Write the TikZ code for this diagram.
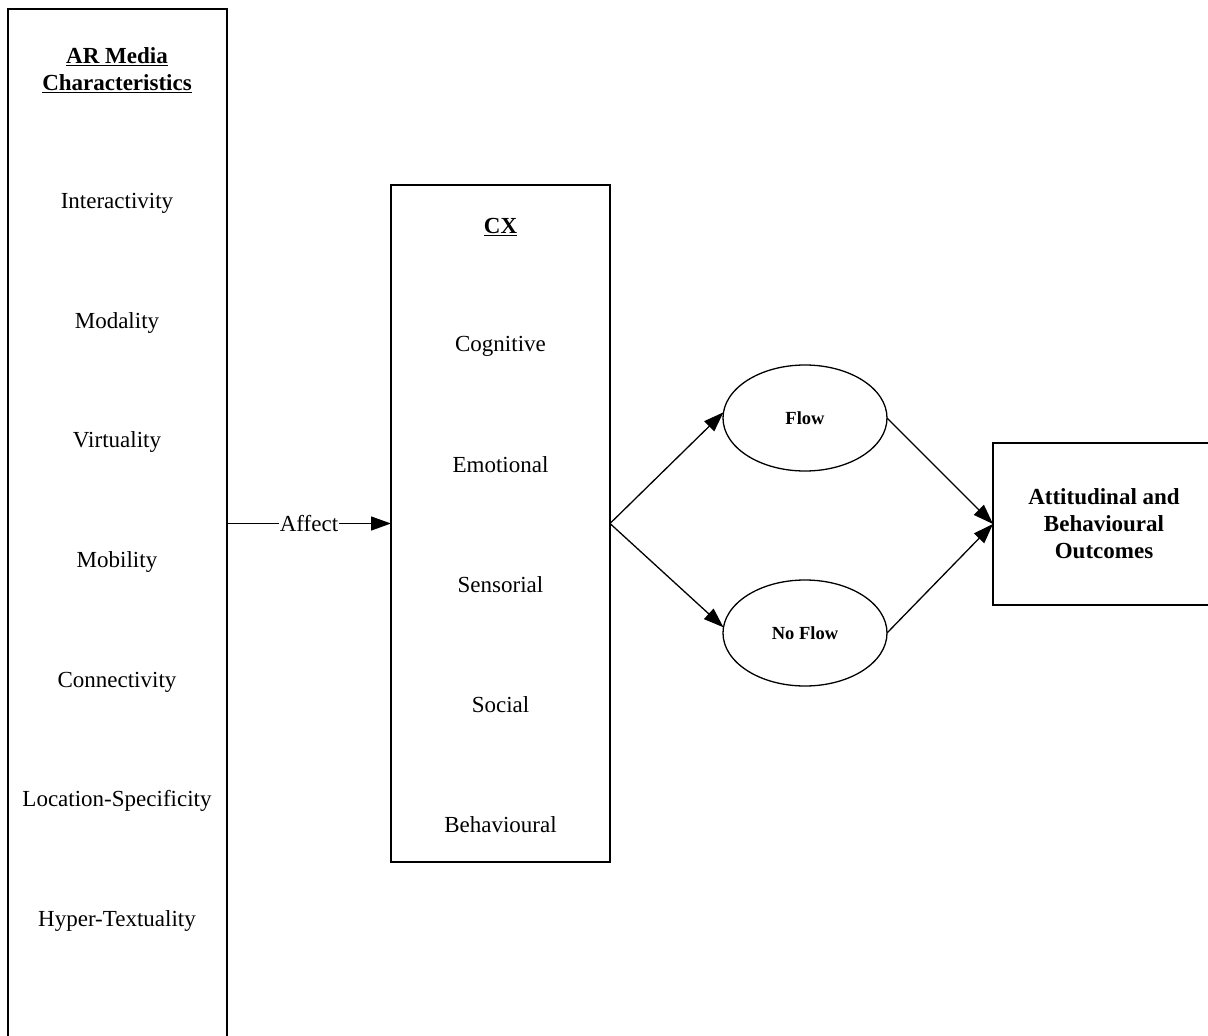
\documentclass[tikz,border=0pt]{standalone}
\usepackage{fontspec}
\setmainfont{Liberation Serif}
\usetikzlibrary{shapes.geometric,arrows.meta}
\begin{document}
\begin{tikzpicture}[x=1pt,y=-1pt,
  box/.style={draw, line width=1.4pt, inner sep=0pt, outer sep=0pt},
  txt/.style={font=\fontsize{23}{27}\selectfont, inner sep=1pt},
  ttl/.style={font=\fontsize{23}{27}\selectfont\bfseries, align=center, inner sep=1pt},
  oval/.style={draw, line width=1.3pt, ellipse, minimum width=164pt, minimum height=106pt, inner sep=0pt, outer sep=0pt, font=\fontsize{18.5}{22}\selectfont\bfseries},
  arr/.style={line width=1.3pt, -{Triangle[length=20pt,width=14pt]}}]
\useasboundingbox (0,0) rectangle (1208,1036);
\clip (0,0) rectangle (1208,1036);
% left box
\node[box, minimum width=219pt, minimum height=1100pt, anchor=north west] (arm) at (8,9) {};
\node[ttl] (armT) at (117,70) {\underline{AR Media}\\\underline{Characteristics}};
\node[txt] (a1) at (117,203) {Interactivity};
\node[txt] (a2) at (117,323) {Modality};
\node[txt] (a3) at (117,442) {Virtuality};
\node[txt] (a4) at (117,562) {Mobility};
\node[txt] (a5) at (117,682) {Connectivity};
\node[txt] (a6) at (117,801) {Location-Specificity};
\node[txt] (a7) at (117,921) {Hyper-Textuality};
% CX box
\node[box, minimum width=219pt, minimum height=677pt, anchor=north west] (cx) at (391,185) {};
\node[ttl] (cxT) at (500.5,227) {\underline{CX}};
\node[txt] (c1) at (500.5,346) {Cognitive};
\node[txt] (c2) at (500.5,465) {Emotional};
\node[txt] (c3) at (500.5,585) {Sensorial};
\node[txt] (c4) at (500.5,705) {Social};
\node[txt] (c5) at (500.5,825) {Behavioural};
% ellipses
\node[oval] (flow) at (805,418) {Flow};
\node[oval] (noflow) at (805,633) {No Flow};
% outcomes
\node[box, minimum width=222pt, minimum height=162pt, anchor=north west] (out) at (993,443) {};
\node[ttl] (outT) at (1104,524) {Attitudinal and\\Behavioural\\Outcomes};
% connectors
\draw[arr] (arm.east |- cx.west) -- node[txt, fill=white] (aff) {Affect} (cx.west);
\draw[arr] (cx.east) -- (flow.176);
\draw[arr] (cx.east) -- (noflow.176);
\draw[arr] (flow.east) -- (out.west);
\draw[arr] (noflow.east) -- (out.west);
\end{tikzpicture}
\end{document}
